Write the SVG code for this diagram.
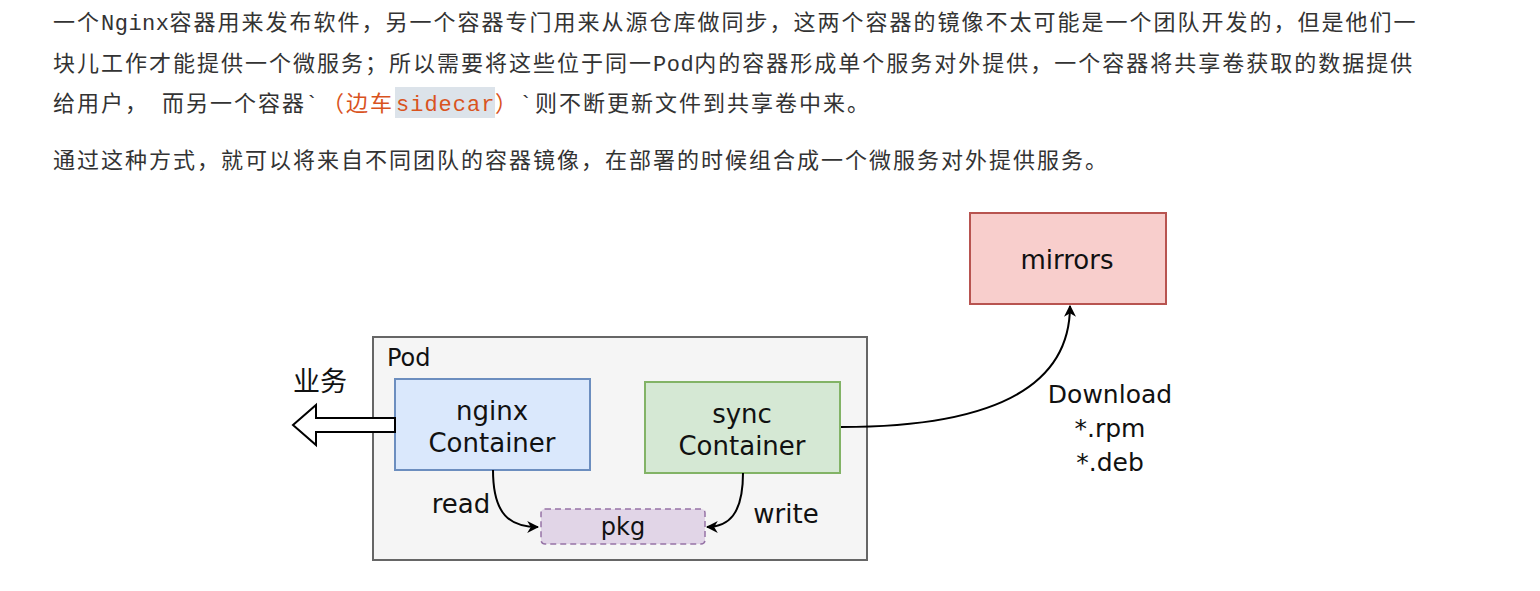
<svg xmlns="http://www.w3.org/2000/svg" width="1540" height="591" viewBox="0 0 1540 591">
<style>
.p{font-family:"Noto Sans CJK SC","Noto Sans",sans-serif;font-size:22px;fill:#333;letter-spacing:2px}
.m{font-family:"Liberation Mono","DejaVu Sans Mono",monospace;letter-spacing:0.5px}
.o{fill:#d9531e}
.lbl{font-family:"DejaVu Sans","Noto Sans CJK SC",sans-serif;fill:#111}
.c{fill:none;stroke:#000;stroke-width:2}
</style>
<defs>
<marker id="ah2" viewBox="0 0 10 10" refX="9" refY="5" markerWidth="12" markerHeight="12" markerUnits="userSpaceOnUse" orient="auto">
<path d="M0,0 L10,5 L0,10 L3,5 Z" fill="#000"/>
</marker>
</defs>
<rect width="1540" height="591" fill="#fff"/>
<g id="paragraph">
<text class="p" x="53" y="30">一个<tspan class="m">Nginx</tspan>容器用来发布软件，另一个容器专门用来从源仓库做同步，这两个容器的镜像不太可能是一个团队开发的，但是他们一</text>
<text class="p" x="53" y="71">块儿工作才能提供一个微服务；所以需要将这些位于同一<tspan class="m">Pod</tspan>内的容器形成单个服务对外提供，一个容器将共享卷获取的数据提供</text>
<rect x="395" y="87" width="100" height="31" fill="#dce3ea"/>
<text class="p" y="111"><tspan x="53">给用户，</tspan><tspan x="162">而另一个容器</tspan><tspan class="m" x="305">`</tspan><tspan class="o" x="322">（边车</tspan><tspan class="m o" x="396" style="letter-spacing:1px">sidecar</tspan><tspan class="o" x="495">）</tspan><tspan class="m" x="519">`</tspan><tspan x="535">则不断更新文件到共享卷中来。</tspan></text>
<text class="p" x="53" y="168">通过这种方式，就可以将来自不同团队的容器镜像，在部署的时候组合成一个微服务对外提供服务。</text>
</g>
<g id="pod">
<rect x="373" y="337" width="494" height="223" fill="#f5f5f5" stroke="#666" stroke-width="2"/>
<text class="lbl" x="387" y="366" font-size="24">Pod</text>
</g>
<g id="nginx">
<rect x="395" y="379" width="195" height="91" fill="#dae8fc" stroke="#6c8ebf" stroke-width="2"/>
<text class="lbl" x="492" y="420" font-size="26" text-anchor="middle">nginx</text>
<text class="lbl" x="492" y="452" font-size="26" text-anchor="middle">Container</text>
</g>
<g id="sync">
<rect x="645" y="382" width="195" height="91" fill="#d5e8d4" stroke="#82b366" stroke-width="2"/>
<text class="lbl" x="742" y="423" font-size="26" text-anchor="middle">sync</text>
<text class="lbl" x="742" y="455" font-size="26" text-anchor="middle">Container</text>
</g>
<g id="pkg">
<rect x="541" y="509" width="164" height="35" rx="4" fill="#e1d5e7" stroke="#9673a6" stroke-width="1.5" stroke-dasharray="6 4"/>
<text class="lbl" x="623" y="535" font-size="24" text-anchor="middle">pkg</text>
</g>
<g id="mirrors">
<rect x="970" y="213" width="196" height="91" fill="#f8cecc" stroke="#b85450" stroke-width="2"/>
<text class="lbl" x="1067" y="269" font-size="26" text-anchor="middle">mirrors</text>
</g>
<g id="service">
<polygon points="395,418 316,418 316,405 293,425 316,445 316,432 395,432" fill="#fff" stroke="#000" stroke-width="2" stroke-linejoin="miter"/>
<text class="lbl" x="293" y="391" font-size="27" style="font-family:'Noto Sans CJK SC',sans-serif">业务</text>
</g>
<g id="connectors">
<path class="c" d="M493,470 C493,515 510,527 538,527" marker-end="url(#ah2)"/>
<path class="c" d="M743,473 C743,515 728,527 707,527" marker-end="url(#ah2)"/>
<path class="c" d="M841,427 C955,427 1070,405 1070,306" marker-end="url(#ah2)"/>
<text class="lbl" x="461" y="513" font-size="26" text-anchor="middle">read</text>
<text class="lbl" x="786" y="523" font-size="26" text-anchor="middle">write</text>
<text class="lbl" x="1110" y="403" font-size="25" text-anchor="middle">Download</text>
<text class="lbl" x="1110" y="437" font-size="25" text-anchor="middle">*.rpm</text>
<text class="lbl" x="1110" y="471" font-size="25" text-anchor="middle">*.deb</text>
</g>
</svg>
